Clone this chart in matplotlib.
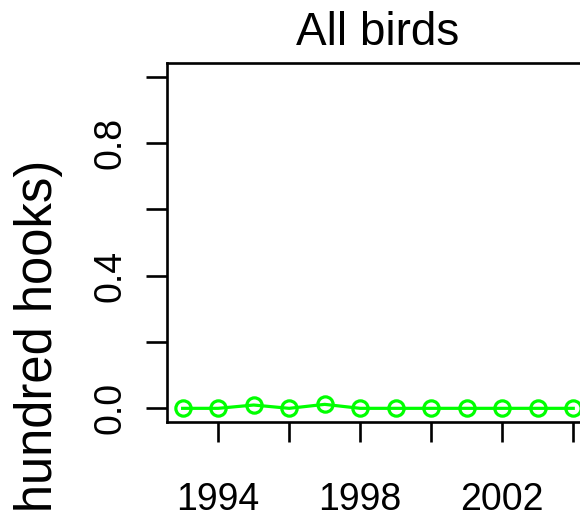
import numpy as np
import matplotlib
matplotlib.use('Agg')
import matplotlib.pyplot as plt

plt.rcParams['font.family'] = ['Liberation Sans', 'DejaVu Sans']

# catch rate of all birds per year
years = [1993, 1994, 1995, 1996, 1997, 1998, 1999, 2000, 2001, 2002, 2003, 2004]
rate = [0.0, 0.0, 0.01, 0.0, 0.012, 0.0, 0.0, 0.0, 0.0, 0.0, 0.0, 0.0]

xticks = [1994, 1996, 1998, 2000, 2002, 2004]
xlabels = ['1994', '', '1998', '', '2002', '']
yticks = [0.0, 0.2, 0.4, 0.6, 0.8, 1.0]
ylabels = ['0.0', '', '0.4', '', '0.8', '']

W, H = 580, 518
fig = plt.figure(figsize=(W / 100, H / 100), dpi=100)
# plot box runs past the right edge (cropped panel)
ax = fig.add_axes([167 / W, (H - 421.6) / H, 421.9 / W, 358.2 / H])

ax.plot(years, rate, color='#00ff00', lw=2.3, marker='o', ms=11,
        mfc='none', mec='#00ff00', mew=2.3, clip_on=False)

ax.set_xlim(1993 - 0.44, 2004 + 0.44)
ax.set_ylim(-0.04, 1.04)
ax.set_xticks(xticks)
ax.set_xticklabels(xlabels)
ax.set_yticks(yticks)
ax.set_yticklabels(ylabels)

for s in ['left', 'top', 'bottom', 'right']:
    ax.spines[s].set_linewidth(1.9)
    ax.spines[s].set_color('black')

ax.tick_params(axis='x', length=14.5, width=1.9, labelsize=27, pad=29)
ax.tick_params(axis='y', length=15, width=1.9, labelsize=27, pad=13,
               labelrotation=90)
for lab in ax.get_yticklabels():
    lab.set_va('center')

fig.text(378 / W, (H - 45) / H, 'All birds', ha='center', va='baseline',
         fontsize=33)
fig.text(63 / W, (H - 160) / H, 'Catch rate (birds per hundred hooks)',
         rotation=90, ha='right', va='top', fontsize=36.5)

fig.savefig('out.png', dpi=100)
